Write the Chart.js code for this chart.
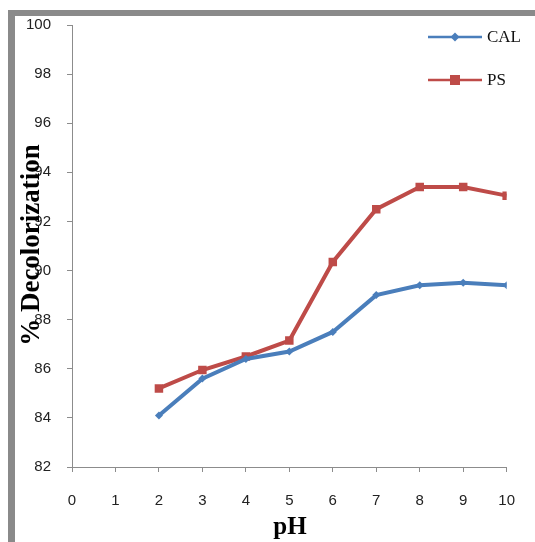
<!DOCTYPE html>
<html>
<head>
<meta charset="utf-8">
<script src="https://cdn.jsdelivr.net/npm/chart.js@4/dist/chart.umd.min.js"></script>
<style>
html,body{margin:0;padding:0;background:#fff;}
#wrap{position:relative;width:535px;height:542px;overflow:hidden;background:#fff;}
#frame{position:absolute;left:8px;top:10px;width:600px;height:600px;border-left:7px solid #8a8a8a;border-top:6px solid #8a8a8a;box-sizing:border-box;}
canvas{position:absolute;left:0;top:0;}
</style>
</head>
<body>
<div id="wrap">
<div id="frame"></div>
<canvas id="c" width="535" height="542"></canvas>
</div>
<script>
const pH = [2, 3, 4, 5, 6, 7, 8, 9, 10];
const calValues = [84.1, 85.6, 86.4, 86.7, 87.5, 89.0, 89.4, 89.5, 89.4];
const psValues = [85.2, 85.95, 86.5, 87.15, 90.35, 92.5, 93.4, 93.4, 93.05];
const seriesNames = ['CAL', 'PS'];
const xTitle = 'pH';
const yTitle = '% Decolorization';

const blue = '#4a7ebb';
const red = '#be4b48';

const overlay = {
  id: 'overlay',
  afterDraw(chart) {
    const ctx = chart.ctx;
    ctx.save();
    const items = chart.data.datasets;
    const ys = [37, 80];
    items.forEach((ds, i) => {
      const y = ys[i];
      ctx.strokeStyle = ds.borderColor;
      ctx.lineWidth = 2.5;
      ctx.beginPath(); ctx.moveTo(428, y); ctx.lineTo(482, y); ctx.stroke();
      ctx.fillStyle = ds.borderColor;
      if (ds.pointStyle === 'rect') {
        ctx.fillRect(455 - 5, y - 5, 10, 10);
      } else {
        ctx.beginPath();
        ctx.moveTo(455, y - 4.5); ctx.lineTo(459.5, y); ctx.lineTo(455, y + 4.5); ctx.lineTo(450.5, y);
        ctx.closePath(); ctx.fill();
      }
      ctx.fillStyle = '#111';
      ctx.font = '17px "Liberation Serif"';
      ctx.textBaseline = 'middle';
      ctx.textAlign = 'left';
      ctx.fillText(ds.label, 487, y + 1);
    });
    ctx.fillStyle = '#000';
    ctx.font = 'bold 25px "Liberation Serif"';
    ctx.textAlign = 'center';
    ctx.textBaseline = 'alphabetic';
    ctx.fillText(xTitle, 290, 534);
    ctx.translate(39, 245);
    ctx.rotate(-Math.PI / 2);
    ctx.font = 'bold 27px "Liberation Serif"';
    ctx.fillText(yTitle, 0, 0);
    ctx.restore();
  }
};

new Chart(document.getElementById('c'), {
  type: 'line',
  data: {
    datasets: [
      {
        label: seriesNames[0],
        data: pH.map((x, i) => ({x, y: calValues[i]})),
        borderColor: blue, backgroundColor: blue,
        borderWidth: 4, pointStyle: 'rectRot', pointRadius: 4, pointBorderWidth: 0,
        tension: 0
      },
      {
        label: seriesNames[1],
        data: pH.map((x, i) => ({x, y: psValues[i]})),
        borderColor: red, backgroundColor: red,
        borderWidth: 4, pointStyle: 'rect', pointRadius: 6, pointBorderWidth: 0,
        tension: 0
      }
    ]
  },
  options: {
    responsive: false,
    animation: false,
    layout: { padding: { left: 0, right: 22, top: 19, bottom: 0 } },
    plugins: { legend: { display: false }, tooltip: { enabled: false } },
    scales: {
      x: {
        type: 'linear', min: 0, max: 10,
        ticks: { stepSize: 1, color: '#222', font: { family: '"Liberation Sans"', size: 15 }, padding: 20, maxRotation: 0 },
        grid: { drawOnChartArea: false, drawTicks: true, tickLength: 5, color: '#8c8c8c' },
        border: { display: true, color: '#8c8c8c', width: 1 },
        afterFit(s) { s.height = 75; }
      },
      y: {
        min: 82, max: 100,
        ticks: { stepSize: 2, color: '#222', font: { family: '"Liberation Sans"', size: 15 }, padding: 16 },
        grid: { drawOnChartArea: false, drawTicks: true, tickLength: 5, color: '#8c8c8c' },
        border: { display: true, color: '#8c8c8c', width: 1 },
        afterFit(s) { s.width = 72; }
      }
    }
  },
  plugins: [overlay]
});
</script>
</body>
</html>
